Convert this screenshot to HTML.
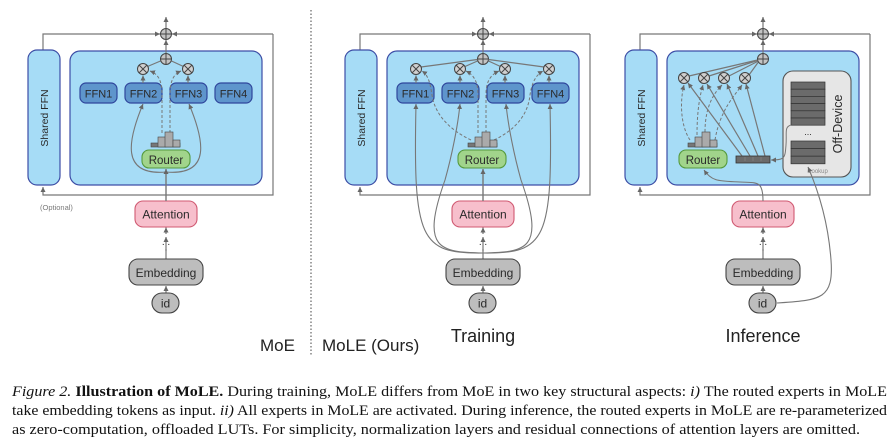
<!DOCTYPE html>
<html><head><meta charset="utf-8"><style>
html,body{margin:0;padding:0;background:#fff;}
svg{display:block;}
.t{font-family:"Liberation Sans","DejaVu Sans",sans-serif;fill:#2a2a2a;}
.cap{font-family:"Liberation Serif",serif;font-size:14.5px;fill:#111;}
</style></head><body>
<svg width="893" height="447" viewBox="0 0 893 447" xmlns="http://www.w3.org/2000/svg">
<defs>
<marker id="a" markerWidth="6" markerHeight="6" refX="5" refY="3" orient="auto" markerUnits="userSpaceOnUse">
<path d="M0,0.5 L5,3 L0,5.5 z" fill="#666"/></marker>
<g id="oplus"><circle r="5.5" fill="#c4c4c4" stroke="#444" stroke-width="1"/><path d="M-5.5,0H5.5M0,-5.5V5.5" stroke="#444" stroke-width="1"/></g>
<g id="otimes"><circle r="5.5" fill="#d0d0d0" stroke="#444" stroke-width="1"/><path d="M-3.9,-3.9L3.9,3.9M3.9,-3.9L-3.9,3.9" stroke="#444" stroke-width="1"/></g>
<g id="hist"><rect x="0" y="11" width="29" height="4" fill="#777" stroke="#444" stroke-width="0.6"/><rect x="7" y="5" width="8" height="10" fill="#aaa" stroke="#444" stroke-width="0.6"/><rect x="14" y="0" width="8" height="15" fill="#aaa" stroke="#444" stroke-width="0.6"/><rect x="22" y="8" width="7" height="7" fill="#aaa" stroke="#444" stroke-width="0.6"/></g>
<g id="common">
  <path d="M43,50 V34 H160" fill="none" stroke="#777" stroke-width="1.2" marker-end="url(#a)"/>
  <path d="M273,34 H172" fill="none" stroke="#777" stroke-width="1.2" marker-end="url(#a)"/>
  <path d="M273,34 V195 H43 V187" fill="none" stroke="#777" stroke-width="1.2" marker-end="url(#a)"/>
  <path d="M166,28 V17" fill="none" stroke="#777" stroke-width="1.2" marker-end="url(#a)"/>
  <use href="#oplus" x="166" y="34"/>
  <rect x="28" y="50" width="32" height="135" rx="9" fill="#a6dcf6" stroke="#3d4ea6" stroke-width="1.2"/>
  <text class="t" font-size="10.5" transform="translate(48,118) rotate(-90)" text-anchor="middle">Shared FFN</text>
  <rect x="70" y="51" width="192" height="134" rx="10" fill="#a6dcf6" stroke="#3d4ea6" stroke-width="1.2"/>
  <path d="M166,53 V40" fill="none" stroke="#777" stroke-width="1.2" marker-end="url(#a)"/>
  <use href="#oplus" x="166" y="59"/>
  <rect x="135" y="201" width="62" height="26" rx="8" fill="#f7bfcc" stroke="#d05a72" stroke-width="1.1"/>
  <text class="t" x="166" y="218.5" font-size="12" text-anchor="middle">Attention</text>
  <text class="t" x="166" y="245" font-size="10" text-anchor="middle">...</text>
  <path d="M166,251 V237" stroke="#777" stroke-width="1.2" marker-end="url(#a)"/>
  <path d="M166,259 V249" stroke="#777" stroke-width="1.2"/>
  <path d="M166,234 V227.5" stroke="#777" stroke-width="1.2" marker-end="url(#a)"/>
  <rect x="129" y="259" width="74" height="26" rx="9" fill="#bdbdbd" stroke="#444" stroke-width="1.1"/>
  <text class="t" x="166" y="277" font-size="12" text-anchor="middle">Embedding</text>
  <path d="M166,293 V286" stroke="#777" stroke-width="1.2" marker-end="url(#a)"/>
  <rect x="152" y="293" width="27" height="20" rx="10" fill="#bdbdbd" stroke="#444" stroke-width="1.1"/>
  <text class="t" x="165.5" y="307.5" font-size="12" text-anchor="middle">id</text>
</g>
<g id="ffn"><rect x="0" y="0" width="37" height="20" rx="6" fill="#5e95cc" stroke="#2f469c" stroke-width="1.2"/></g>
</defs>

<!-- Panel 1 MoE -->
<use href="#common"/>
<text class="t" x="40" y="210" font-size="7.5" fill="#777" style="fill:#7a7a7a">(Optional)</text>
<g>
  <path d="M147.5,66.5 L160.5,61" stroke="#777" stroke-width="1.2"/>
  <path d="M183.5,66.5 L171.5,61" stroke="#777" stroke-width="1.2"/>
  <use href="#otimes" x="143" y="69"/><use href="#otimes" x="188" y="69"/>
  <use href="#ffn" x="80" y="83"/><text class="t" x="98.5" y="97.5" font-size="11" text-anchor="middle">FFN1</text>
  <use href="#ffn" x="125" y="83"/><text class="t" x="143.5" y="97.5" font-size="11" text-anchor="middle">FFN2</text>
  <use href="#ffn" x="170" y="83"/><text class="t" x="188.5" y="97.5" font-size="11" text-anchor="middle">FFN3</text>
  <use href="#ffn" x="215" y="83"/><text class="t" x="233.5" y="97.5" font-size="11" text-anchor="middle">FFN4</text>
  <path d="M143,83 V75.5" stroke="#777" stroke-width="1.2" marker-end="url(#a)"/>
  <path d="M188,83 V75.5" stroke="#777" stroke-width="1.2" marker-end="url(#a)"/>
  <path d="M162,133 V95 C162,80 158,74 150,71" fill="none" stroke="#777" stroke-width="1" stroke-dasharray="3,2" marker-end="url(#a)"/>
  <path d="M170,133 V95 C170,80 174,74 181,71" fill="none" stroke="#777" stroke-width="1" stroke-dasharray="3,2" marker-end="url(#a)"/>
  <use href="#hist" x="151" y="132"/>
  <path d="M166,172 C120,176 128,140 143,104" fill="none" stroke="#777" stroke-width="1.1" marker-end="url(#a)"/>
  <path d="M166,172 C212,176 204,140 189,104" fill="none" stroke="#777" stroke-width="1.1" marker-end="url(#a)"/>
  <path d="M166,201 V169" stroke="#777" stroke-width="1.4" marker-end="url(#a)"/>
  <rect x="142" y="150" width="48" height="18" rx="7" fill="#a1d48b" stroke="#559a3d" stroke-width="1.1"/>
  <text class="t" x="166" y="164" font-size="11.5" text-anchor="middle">Router</text>
</g>
<text class="t" x="260" y="351" font-size="17" style="fill:#222">MoE</text>
<path d="M311,10 V356" stroke="#444" stroke-width="1" stroke-dasharray="1.5,2"/>
<text class="t" x="322" y="351" font-size="17" style="fill:#222">MoLE (Ours)</text>

<!-- Panel 2 Training -->
<g transform="translate(317,0)"><use href="#common"/></g>
<g>
  <path d="M421,67 L477.5,59.5" stroke="#777" stroke-width="1.2"/>
  <path d="M465,66.5 L477.5,61" stroke="#777" stroke-width="1.2"/>
  <path d="M500.5,66.5 L488.5,61" stroke="#777" stroke-width="1.2"/>
  <path d="M544,67 L488.5,59.5" stroke="#777" stroke-width="1.2"/>
  <use href="#otimes" x="416" y="69"/><use href="#otimes" x="460" y="69"/><use href="#otimes" x="505" y="69"/><use href="#otimes" x="549" y="69"/>
  <use href="#ffn" x="397" y="83"/><text class="t" x="415.5" y="97.5" font-size="11" text-anchor="middle">FFN1</text>
  <use href="#ffn" x="442" y="83"/><text class="t" x="460.5" y="97.5" font-size="11" text-anchor="middle">FFN2</text>
  <use href="#ffn" x="487" y="83"/><text class="t" x="505.5" y="97.5" font-size="11" text-anchor="middle">FFN3</text>
  <use href="#ffn" x="532" y="83"/><text class="t" x="550.5" y="97.5" font-size="11" text-anchor="middle">FFN4</text>
  <path d="M416,83 V75.5" stroke="#777" stroke-width="1.2" marker-end="url(#a)"/>
  <path d="M460,83 V75.5" stroke="#777" stroke-width="1.2" marker-end="url(#a)"/>
  <path d="M505,83 V75.5" stroke="#777" stroke-width="1.2" marker-end="url(#a)"/>
  <path d="M549,83 V75.5" stroke="#777" stroke-width="1.2" marker-end="url(#a)"/>
  <path d="M471,140 C450,130 435,115 432,95 C430,82 428,75 422,71" fill="none" stroke="#777" stroke-width="1" stroke-dasharray="3,2" marker-end="url(#a)"/>
  <path d="M478,133 V95 C478,82 474,75 466,71" fill="none" stroke="#777" stroke-width="1" stroke-dasharray="3,2" marker-end="url(#a)"/>
  <path d="M486,133 V95 C486,82 490,75 499,71" fill="none" stroke="#777" stroke-width="1" stroke-dasharray="3,2" marker-end="url(#a)"/>
  <path d="M494,140 C515,130 528,115 530,95 C532,82 536,75 543,71" fill="none" stroke="#777" stroke-width="1" stroke-dasharray="3,2" marker-end="url(#a)"/>
  <use href="#hist" x="468" y="132"/>
  <path d="M483,253 C420,254 413,240 416,104" fill="none" stroke="#777" stroke-width="1.1" marker-end="url(#a)"/>
  <path d="M483,253 C440,252 420,250 445,180 C452,155 458,125 460,104" fill="none" stroke="#777" stroke-width="1.1" marker-end="url(#a)"/>
  <path d="M483,253 C526,252 546,250 521,180 C514,155 508,125 506,104" fill="none" stroke="#777" stroke-width="1.1" marker-end="url(#a)"/>
  <path d="M483,253 C546,254 553,240 550,104" fill="none" stroke="#777" stroke-width="1.1" marker-end="url(#a)"/>
  <path d="M483,201 V169" stroke="#777" stroke-width="1.4" marker-end="url(#a)"/>
  <rect x="458" y="150" width="48" height="18" rx="7" fill="#a1d48b" stroke="#559a3d" stroke-width="1.1"/>
  <text class="t" x="482" y="164" font-size="11.5" text-anchor="middle">Router</text>
</g>
<text class="t" x="483" y="342" font-size="18" text-anchor="middle" style="fill:#222">Training</text>

<!-- Panel 3 Inference -->
<g transform="translate(597,0)"><use href="#common"/></g>
<g>
  <path d="M689,76 L757.5,60" stroke="#777" stroke-width="1.2"/>
  <path d="M709,76 L757.5,60.5" stroke="#777" stroke-width="1.2"/>
  <path d="M729,76 L757.5,61.5" stroke="#777" stroke-width="1.2"/>
  <path d="M749,75 L758,62.5" stroke="#777" stroke-width="1.2"/>
  <use href="#otimes" x="684" y="78"/><use href="#otimes" x="704" y="78"/><use href="#otimes" x="724" y="78"/><use href="#otimes" x="745" y="78"/>
  <path d="M742,156 L688,83" stroke="#777" stroke-width="1.2" marker-end="url(#a)"/>
  <path d="M750,156 L707,84" stroke="#777" stroke-width="1.2" marker-end="url(#a)"/>
  <path d="M758,156 L727,84" stroke="#777" stroke-width="1.2" marker-end="url(#a)"/>
  <path d="M765,156 L746,84" stroke="#777" stroke-width="1.2" marker-end="url(#a)"/>
  <path d="M690,140 C680,125 680,100 684,85" fill="none" stroke="#777" stroke-width="1" stroke-dasharray="3,2" marker-end="url(#a)"/>
  <path d="M697,135 C697,110 700,95 703,85" fill="none" stroke="#777" stroke-width="1" stroke-dasharray="3,2" marker-end="url(#a)"/>
  <path d="M705,132 C705,105 715,92 722,85" fill="none" stroke="#777" stroke-width="1" stroke-dasharray="3,2" marker-end="url(#a)"/>
  <path d="M715,140 C720,110 735,95 742,85" fill="none" stroke="#777" stroke-width="1" stroke-dasharray="3,2" marker-end="url(#a)"/>
  <use href="#hist" x="688" y="132"/>
  <rect x="679" y="150" width="48" height="18" rx="7" fill="#a1d48b" stroke="#559a3d" stroke-width="1.1"/>
  <text class="t" x="703" y="164" font-size="11.5" text-anchor="middle">Router</text>
  <rect x="736" y="156" width="34" height="7" fill="#6b6b6b" stroke="#333" stroke-width="0.8"/>
  <path d="M745,157.5V161.5M753,157.5V161.5M761,157.5V161.5" stroke="#999" stroke-width="0.8" stroke-dasharray="1,1"/>
  <rect x="783" y="71" width="68" height="106" rx="10" fill="#e6e6e6" stroke="#555" stroke-width="1.1"/>
  <g fill="#6b6b6b" stroke="#333" stroke-width="0.7">
    <rect x="791" y="82" width="34" height="7.2"/><rect x="791" y="89.2" width="34" height="7.2"/><rect x="791" y="96.4" width="34" height="7.2"/><rect x="791" y="103.6" width="34" height="7.2"/><rect x="791" y="110.8" width="34" height="7.2"/><rect x="791" y="118" width="34" height="7.2"/>
    <rect x="791" y="141" width="34" height="7.6"/><rect x="791" y="148.6" width="34" height="7.6"/><rect x="791" y="156.2" width="34" height="7.6"/>
  </g>
  <text class="t" x="808" y="135" font-size="9" text-anchor="middle">...</text>
  <text class="t" font-size="12.5" transform="translate(842,124) rotate(-90)" text-anchor="middle">Off-Device</text>
  <text class="t" x="818" y="173" font-size="6" text-anchor="middle" style="fill:#888">Lookup</text>
  <path d="M791,125 C784,127 787,133 786,145 C785,158 785,160 771,160" fill="none" stroke="#777" stroke-width="1" marker-end="url(#a)"/>
  <path d="M763,201 C763,180 757,183 740,182 C720,181 712,182 704,170" fill="none" stroke="#777" stroke-width="1.1" marker-end="url(#a)"/>
  <path d="M777,303 C820,300 834,300 831,260 C828,220 818,190 808,167" fill="none" stroke="#777" stroke-width="1.1" marker-end="url(#a)"/>
</g>
<text class="t" x="763" y="342" font-size="18" text-anchor="middle" style="fill:#222">Inference</text>

<!-- Caption -->
<text class="cap" x="12" y="396" textLength="875" lengthAdjust="spacingAndGlyphs"><tspan font-style="italic">Figure 2.</tspan> <tspan font-weight="bold">Illustration of MoLE.</tspan>  During training, MoLE differs from MoE in two key structural aspects: <tspan font-style="italic">i)</tspan> The routed experts in MoLE</text>
<text class="cap" x="12" y="415" textLength="875" lengthAdjust="spacingAndGlyphs">take embedding tokens as input. <tspan font-style="italic">ii)</tspan> All experts in MoLE are activated. During inference, the routed experts in MoLE are re-parameterized</text>
<text class="cap" x="12" y="434" textLength="848" lengthAdjust="spacingAndGlyphs">as zero-computation, offloaded LUTs. For simplicity, normalization layers and residual connections of attention layers are omitted.</text>
</svg>
</body></html>
